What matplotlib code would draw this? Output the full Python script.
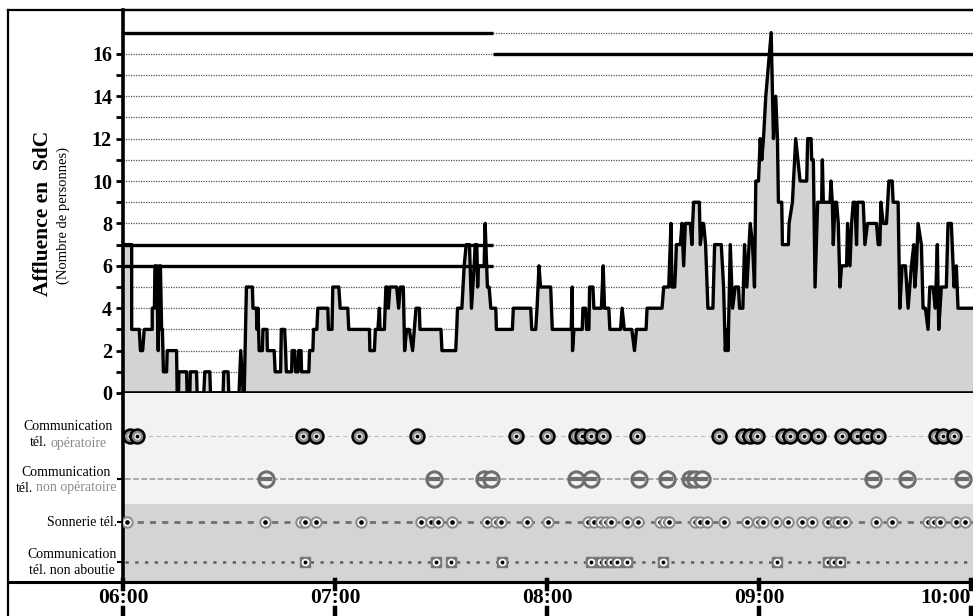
import matplotlib
matplotlib.use("Agg")
import matplotlib.pyplot as plt
import matplotlib.transforms as mtransforms
from matplotlib.lines import Line2D

# Affluence in the room: vertices of the trace (minutes after 06:00, persons)
t_min = [0.0, 2.46, 2.46, 4.60, 4.94, 5.56, 6.01, 8.27, 8.27, 8.89, 9.04, 9.52, 9.97, 10.31,
         10.59, 10.93, 11.15, 11.44, 12.34, 12.51, 15.16, 15.33, 15.73, 15.81, 17.99, 18.15,
         18.92, 19.06, 20.81, 20.98, 22.87, 23.15, 24.56, 24.76, 28.32, 28.52, 29.73, 29.93,
         32.84, 33.32, 34.02, 34.31, 34.93, 36.62, 36.79, 37.75, 37.92, 38.20, 38.54, 39.44,
         39.61, 40.74, 40.86, 42.78, 43.06, 44.61, 44.81, 45.74, 46.02, 46.22, 47.72, 47.86,
         48.56, 48.85, 49.55, 49.69, 50.40, 50.54, 52.60, 52.80, 53.73, 53.93, 54.86, 55.14,
         57.97, 58.16, 59.15, 59.38, 61.07, 61.47, 63.61, 63.90, 69.74, 69.88, 71.15, 71.43,
         72.14, 72.56, 72.76, 73.98, 74.40, 74.82, 75.10, 75.53, 77.45, 78.01, 78.49, 79.34,
         79.71, 80.27, 81.03, 81.97, 82.45, 82.93, 83.86, 84.05, 89.99, 90.27, 94.16, 94.45,
         94.67, 95.91, 96.56, 97.13, 98.06, 98.63, 99.39, 99.67, 100.15, 100.37, 100.60,
         102.21, 102.49, 102.92, 103.14, 103.62, 104.10, 105.51, 105.68, 110.20, 110.48,
         115.39, 115.68, 116.81, 117.18, 117.74, 118.17, 121.04, 121.50, 126.86, 127.14,
         127.23, 127.62, 129.97, 130.17, 130.93, 131.21, 131.86, 132.06, 132.99, 133.27,
         135.39, 135.90, 136.29, 137.50, 137.79, 140.81, 141.26, 141.88, 144.00, 144.76,
         145.33, 148.04, 148.32, 152.56, 153.04, 154.45, 155.10, 155.38, 156.14, 156.42,
         156.62, 157.75, 158.20, 158.68, 159.16, 160.57, 161.02, 161.22, 161.50, 163.11,
         163.40, 164.05, 164.33, 164.89, 165.54, 166.96, 167.44, 169.33, 169.98, 170.46,
         170.91, 171.25, 171.87, 172.52, 173.28, 174.21, 174.49, 175.43, 175.91, 176.56,
         177.52, 178.17, 178.73, 179.10, 179.86, 180.34, 180.79, 181.27, 181.92, 183.45,
         184.09, 184.74, 185.22, 185.50, 186.44, 186.63, 188.33, 188.52, 189.46, 190.39,
         191.63, 193.50, 193.78, 194.74, 194.91, 195.39, 195.87, 196.60, 197.73, 197.93,
         198.21, 200.10, 200.38, 200.75, 201.03, 201.51, 201.96, 202.44, 202.92, 203.37,
         204.79, 205.07, 205.75, 206.20, 206.68, 207.16, 207.61, 207.89, 209.50, 209.98,
         210.72, 213.26, 213.74, 214.22, 214.50, 215.15, 216.08, 216.76, 217.69, 217.97,
         219.38, 219.86, 220.51, 221.45, 222.21, 223.14, 223.82, 224.10, 224.55, 225.03,
         225.96, 226.44, 227.09, 227.85, 228.33, 229.26, 229.91, 230.47, 230.87, 231.61,
         233.02, 233.50, 234.43, 235.20, 235.85, 236.33, 240.60]
affluence = [7, 7, 3, 3, 2, 2, 3, 3, 4, 4, 6, 6, 2, 6,
             6, 3, 3, 1, 1, 2, 2, 0, 0, 1, 1, 0,
             0, 1, 1, 0, 0, 1, 1, 0, 0, 1, 1, 0,
             0, 2, 0, 0, 5, 5, 4, 4, 3, 4, 2, 2,
             3, 3, 2, 2, 1, 1, 3, 3, 2, 1, 1, 2,
             2, 1, 1, 2, 2, 1, 1, 2, 2, 3, 3, 4,
             4, 3, 3, 5, 5, 4, 4, 3, 3, 2, 2, 3,
             3, 4, 3, 3, 5, 5, 4, 5, 5, 4, 5, 5,
             2, 3, 3, 2, 3, 4, 4, 3, 3, 2, 2, 3,
             4, 4, 6, 7, 7, 4, 6, 7, 7, 5, 6,
             6, 8, 6, 5, 5, 4, 4, 3, 3, 4,
             4, 3, 3, 4, 6, 5, 5, 3, 3, 5,
             2, 3, 3, 4, 4, 3, 3, 5, 5, 4,
             4, 6, 4, 4, 3, 3, 4, 3, 3, 2,
             3, 3, 4, 4, 5, 5, 8, 5, 5, 6,
             7, 7, 8, 6, 8, 8, 7, 8, 9, 9,
             7, 8, 8, 7, 4, 4, 7, 7, 5, 2,
             3, 2, 7, 4, 5, 5, 4, 4, 7, 5,
             8, 7, 5, 10, 10, 12, 11, 12, 14, 17,
             12, 14, 12, 9, 9, 7, 7, 8, 9, 12,
             10, 10, 12, 12, 11, 11, 5, 9, 9, 11,
             9, 9, 10, 9, 7, 9, 9, 8, 5, 6,
             6, 8, 6, 8, 9, 9, 7, 9, 9, 7,
             8, 8, 7, 7, 9, 8, 8, 10, 10, 9,
             9, 4, 6, 6, 4, 6, 7, 5, 6, 8,
             7, 4, 4, 3, 5, 5, 4, 7, 3, 5,
             5, 8, 8, 5, 6, 4, 4]

y_major = [0, 2, 4, 6, 8, 10, 12, 14, 16]
y_minor = [1, 3, 5, 7, 9, 11, 13, 15]
hour_ticks = [0, 60, 120, 180, 240]
hour_labels = ["06:00", "07:00", "08:00", "09:00", "10:00"]

# Thresholds: (persons, from minute, to minute)
seuils = [(7, 0, 104.7), (6, 0, 104.7), (17, 0, 104.7), (16, 104.7, 240.6)]

# Phone events (minutes after 06:00)
comm_operatoire = [1.98, 3.95, 50.82, 54.49, 66.92, 83.20, 111.16, 119.90, 128.10, 129.97,
                   132.34, 135.81, 145.50, 168.56, 175.60, 177.49, 179.36, 186.89, 188.78,
                   192.82, 196.77, 203.38, 207.61, 210.44, 213.74, 230.20, 232.09, 235.20]
comm_non_operatoire = [40.57, 87.90, 102.21, 104.10, 128.10, 132.34, 145.98, 153.97, 160.57,
                       161.98, 163.85, 212.33, 222.01, 237.74]
sonnerie = [1.21, 40.09, 50.45, 51.38, 54.69, 67.40, 84.34, 87.16, 89.03, 93.09, 103.14,
            105.51, 106.92, 114.43, 120.37, 131.66, 133.27, 135.16, 136.57, 137.98, 142.67,
            145.77, 152.10, 153.31, 154.64, 161.98, 163.40, 165.26, 169.98, 176.56, 179.86,
            181.27, 184.74, 188.33, 192.09, 194.91, 199.63, 201.51, 202.44, 204.34, 213.00,
            217.69, 227.85, 229.54, 231.15, 235.85, 238.22]
comm_non_aboutie = [51.38, 88.57, 92.81, 107.21, 132.34, 135.25, 136.66, 138.07, 139.76,
                    142.67, 152.75, 185.03, 199.63, 201.32, 203.02]

# Lane captions: each line is (black prefix, grey suffix)
lane_labels = [
    [("Communication", ""), ("tél.", "opératoire")],
    [("Communication", ""), ("tél.", "non opératoire")],
    [("Sonnerie tél.", "")],
    [("Communication", ""), ("tél. non aboutie", "")],
]

SERIF = "Liberation Serif"
W, H = 973, 616
XMAX = 240.57

fig = plt.figure(figsize=(W / 100, H / 100), dpi=100)


def fx(px):
    return px / W


def fy(py):
    return 1 - py / H


# ---- upper panel: affluence ----
ax = fig.add_axes([fx(123), fy(393), fx(973) - fx(123), fy(10) - fy(393)])
ax.set_xlim(0, XMAX)
ax.set_ylim(0, 18.07)
for v in range(1, 18):
    ax.axhline(v, color="#555555", lw=0.9, ls=(0, (1, 1)), zorder=1)
ax.fill_between(t_min, affluence, 0, color="#d3d3d3", lw=0, zorder=2)
for v, a, b in seuils:
    ax.hlines(v, a, b, color="black", lw=2.4, zorder=3)
ax.plot(t_min, affluence, color="black", lw=2.4, zorder=4)

ax.spines["right"].set_visible(False)
ax.spines["top"].set_linewidth(1.6)
ax.spines["left"].set_linewidth(2.6)
ax.spines["bottom"].set_linewidth(2.6)
ax.spines["bottom"].set_zorder(6)
ax.set_xticks([])
ax.set_yticks(y_major)
ax.set_yticks(y_minor, minor=True)
ax.tick_params(axis="y", which="both", direction="out", length=5, width=2, pad=3)
ax.set_yticklabels([str(v) for v in y_major], fontsize=14.5, fontweight="bold",
                   family=SERIF)

fig.text(fx(43), fy(213), "Affluence en  SdC", rotation=90, ha="center", va="center",
         fontsize=15.5, fontweight="bold", family=SERIF)
fig.text(fx(63), fy(215), "(Nombre de personnes)", rotation=90, ha="center",
         va="center", fontsize=10.5, family=SERIF)

# ---- lower panel: phone events ----
ax2 = fig.add_axes([fx(123), fy(582), fx(973) - fx(123), fy(393) - fy(582)])
ax2.set_xlim(0, XMAX)
ax2.set_ylim(0, 189)
ax2.axhspan(78, 189, color="#f2f2f2", lw=0, zorder=0)
ax2.axhspan(0, 78, color="#d4d4d4", lw=0, zorder=0)
for s in ("top", "right"):
    ax2.spines[s].set_visible(False)
ax2.spines["left"].set_linewidth(2.6)
ax2.spines["bottom"].set_linewidth(2.2)
ax2.set_xticks([])

y_op, y_nop, y_son, y_nab = 146, 103, 60, 20
ax2.set_yticks([y_nop, y_son, y_nab])
ax2.set_yticklabels([])
ax2.tick_params(axis="y", direction="out", length=4, width=1.5)

x0 = 0.6
ax2.plot([x0, XMAX], [y_op] * 2, color="#bdbdbd", lw=0.8, ls=(0, (4, 3)), zorder=1)
ax2.plot([x0, XMAX], [y_nop] * 2, color="#a8a8a8", lw=1.4, ls=(0, (3, 1.2)), zorder=1)
ax2.plot([x0, XMAX], [y_son] * 2, color="#707070", lw=2.0, ls=(0, (2.2, 2.2)), zorder=1)
ax2.plot([x0, XMAX], [y_nab] * 2, color="#5e5e5e", lw=1.8, ls=(0, (1.3, 2.6)), zorder=1)

z = 5.0
for t in comm_operatoire:
    ax2.plot([t], [y_op], "o", ms=10, mfc="#8c8c8c", mec="black", mew=1.8, zorder=z)
    ax2.plot([t], [y_op], "o", ms=4.0, mfc="white", mec="white", mew=0.5, zorder=z + 0.001)
    ax2.plot([t], [y_op], "o", ms=1.8, mfc="black", mec="black", zorder=z + 0.002)
    z += 0.01
for t in comm_non_operatoire:
    ax2.plot([t], [y_nop], "o", ms=11, mfc="#f4f4f4", mec="#6e6e6e", mew=2.2, zorder=z)
    ax2.plot([t], [y_nop], "_", ms=8, mew=3, color="#6e6e6e", zorder=z + 0.001)
    z += 0.01
for t in sonnerie:
    ax2.plot([t], [y_son], "o", ms=7.5, mfc="#f2f2f2", mec="#8a8a8a", mew=1.4, zorder=z)
    ax2.plot([t], [y_son], "o", ms=2.3, mfc="black", mec="black", zorder=z + 0.001)
    z += 0.01
for t in comm_non_aboutie:
    ax2.plot([t], [y_nab], "s", ms=7.5, mfc="#777777", mec="#777777", zorder=z)
    ax2.plot([t], [y_nab], "o", ms=4.5, mfc="white", mec="white", zorder=z + 0.001)
    ax2.plot([t], [y_nab], "o", ms=1.8, mfc="black", mec="black", zorder=z + 0.002)
    z += 0.01

# ---- frame and time axis ----
for xs, ys, lw in [([fx(8), fx(8)], [fy(10), 0], 1.6),
                   ([fx(8), 1], [fy(10), fy(10)], 1.6),
                   ([fx(8), 1], [fy(582), fy(582)], 2.2)]:
    fig.add_artist(Line2D(xs, ys, color="black", lw=lw, transform=fig.transFigure))

blend = mtransforms.blended_transform_factory(ax2.transData, fig.transFigure)
for i, (t, lbl) in enumerate(zip(hour_ticks, hour_labels)):
    fig.add_artist(Line2D([t, t], [fy(580), fy(589)], color="black", lw=3.2,
                          transform=blend))
    fig.add_artist(Line2D([t, t], [fy(608), 0], color="black", lw=3.2, transform=blend))
    last = i == len(hour_ticks) - 1
    fig.text(t, fy(598), lbl, transform=blend, ha="right" if last else "center",
             va="center", fontsize=15.5, fontweight="bold", family=SERIF)

# ---- lane captions (two-colour lines) ----
renderer = fig.canvas.get_renderer()
CAP_SIZE = 10


def text_width(s):
    t = fig.text(0, 0, s, fontsize=CAP_SIZE, family=SERIF)
    w = t.get_window_extent(renderer).width
    t.remove()
    return w


def caption_line(black, grey, xpx, ypx, align):
    full = black + (" " + grey if grey else "")
    total = text_width(full)
    left = xpx - total / 2 if align == "center" else xpx - total
    fig.text(fx(left), fy(ypx), black, color="black", fontsize=CAP_SIZE, family=SERIF,
             ha="left", va="center")
    if grey:
        fig.text(fx(left + total), fy(ypx), grey, color="#8a8a8a", fontsize=CAP_SIZE,
                 family=SERIF, ha="right", va="center")


caption_pos = [(68, [427, 443], "center"), (66, [472, 488], "center"),
               (117, [523], "right"), (72, [555, 571], "center")]
for lines, (xc, ys, align) in zip(lane_labels, caption_pos):
    for (black, grey), ypx in zip(lines, ys):
        caption_line(black, grey, xc, ypx, align)

fig.savefig("out.png", dpi=100)
